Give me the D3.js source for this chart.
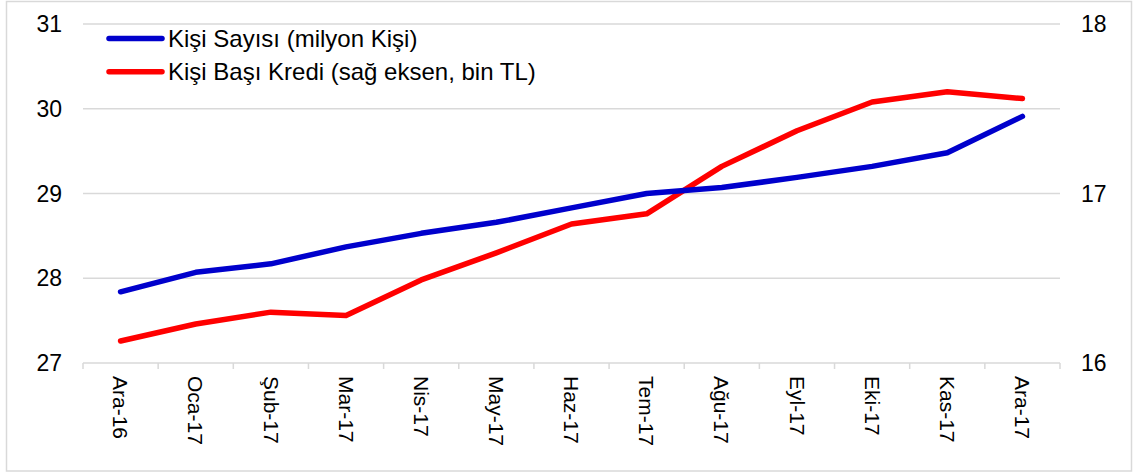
<!DOCTYPE html>
<html>
<head>
<meta charset="utf-8">
<script src="https://cdn.jsdelivr.net/npm/d3@7"></script>
<style>
  body { margin: 0; background: #fff; }
  svg { font-family: "Liberation Sans", Arial, sans-serif; }
  .grid line { stroke: #d9d9d9; stroke-width: 1.5; }
  .axis text { font-size: 23px; fill: #000; }
</style>
</head>
<body>
<svg width="1134" height="473"></svg>
<script>
var months = ["Ara-16", "Oca-17", "Şub-17", "Mar-17", "Nis-17", "May-17", "Haz-17",
              "Tem-17", "Ağu-17", "Eyl-17", "Eki-17", "Kas-17", "Ara-17"];
var kisiSayisi = [27.84, 28.07, 28.17, 28.37, 28.53, 28.66, 28.83, 29.00, 29.07, 29.19, 29.32, 29.48, 29.91];
var kisiBasiKredi = [16.13, 16.23, 16.30, 16.28, 16.49, 16.65, 16.82, 16.88, 17.16, 17.37, 17.54, 17.60, 17.56];
var leftTicks = [27, 28, 29, 30, 31];
var rightTicks = [16, 17, 18];
var legendNames = ["Kişi Sayısı (milyon Kişi)", "Kişi Başı Kredi (sağ eksen, bin TL)"];

var svg = d3.select("svg"),
    margin = {top: 24, right: 74, bottom: 110, left: 83},
    width = +svg.attr("width") - margin.left - margin.right,
    height = +svg.attr("height") - margin.top - margin.bottom;

// outer frame
svg.append("rect")
    .attr("x", 6.5).attr("y", 1.5)
    .attr("width", 1125).attr("height", 469.5)
    .attr("fill", "none")
    .attr("stroke", "#d9d9d9")
    .attr("stroke-width", 1.5);

var x = d3.scaleBand().domain(months).range([0, width]),
    yL = d3.scaleLinear().domain([27, 31]).range([height, 0]),
    yR = d3.scaleLinear().domain([16, 18]).range([height, 0]);

var g = svg.append("g")
    .attr("transform", "translate(" + margin.left + "," + margin.top + ")");

// gridlines
g.append("g").attr("class", "grid")
  .selectAll("line").data(leftTicks.slice(1)).enter().append("line")
    .attr("x1", 0).attr("x2", width)
    .attr("y1", function(d){ return yL(d); })
    .attr("y2", function(d){ return yL(d); });

// x axis line + ticks at band edges
var xa = g.append("g").attr("class", "grid");
xa.append("line")
    .attr("x1", 0).attr("x2", width)
    .attr("y1", height).attr("y2", height);
xa.selectAll(".tk").data(d3.range(months.length + 1)).enter().append("line")
    .attr("x1", function(i){ return i * x.step(); })
    .attr("x2", function(i){ return i * x.step(); })
    .attr("y1", height).attr("y2", height + 6);

// x labels, rotated
g.append("g").attr("class", "axis")
  .selectAll("text").data(months).enter().append("text")
    .attr("transform", function(d){
        return "translate(" + (x(d) + x.bandwidth() / 2) + "," + (height + 13) + ") rotate(90)";
    })
    .attr("dy", "0.35em")
    .attr("text-anchor", "start")
    .style("font-size", "21px")
    .text(function(d){ return d; });

// left axis labels
g.append("g").attr("class", "axis")
  .selectAll("text").data(leftTicks).enter().append("text")
    .attr("x", -21)
    .attr("y", function(d){ return yL(d); })
    .attr("dy", "0.35em")
    .attr("text-anchor", "end")
    .text(function(d){ return d; });

// right axis labels
g.append("g").attr("class", "axis")
  .selectAll("text").data(rightTicks).enter().append("text")
    .attr("x", width + 21)
    .attr("y", function(d){ return yR(d); })
    .attr("dy", "0.35em")
    .attr("text-anchor", "start")
    .text(function(d){ return d; });

var cx = function(d, i){ return x(months[i]) + x.bandwidth() / 2; };

g.append("path")
    .datum(kisiBasiKredi)
    .attr("fill", "none")
    .attr("stroke", "#ff0000")
    .attr("stroke-width", 5.5)
    .attr("stroke-linecap", "round")
    .attr("stroke-linejoin", "round")
    .attr("d", d3.line().x(cx).y(function(d){ return yR(d); }));

g.append("path")
    .datum(kisiSayisi)
    .attr("fill", "none")
    .attr("stroke", "#0000cc")
    .attr("stroke-width", 5.5)
    .attr("stroke-linecap", "round")
    .attr("stroke-linejoin", "round")
    .attr("d", d3.line().x(cx).y(function(d){ return yL(d); }));

// legend
var legendColors = ["#0000cc", "#ff0000"];
var lg = svg.append("g").attr("transform", "translate(109,38.5)");
lg.selectAll("line").data(legendNames).enter().append("line")
    .attr("x1", 0).attr("x2", 53)
    .attr("y1", function(d, i){ return i * 33.3; })
    .attr("y2", function(d, i){ return i * 33.3; })
    .attr("stroke", function(d, i){ return legendColors[i]; })
    .attr("stroke-width", 5.5)
    .attr("stroke-linecap", "round");
lg.selectAll("text").data(legendNames).enter().append("text")
    .attr("x", 59)
    .attr("y", function(d, i){ return i * 33.3; })
    .attr("dy", "0.35em")
    .style("font-size", "24px")
    .text(function(d){ return d; });
</script>
</body>
</html>
